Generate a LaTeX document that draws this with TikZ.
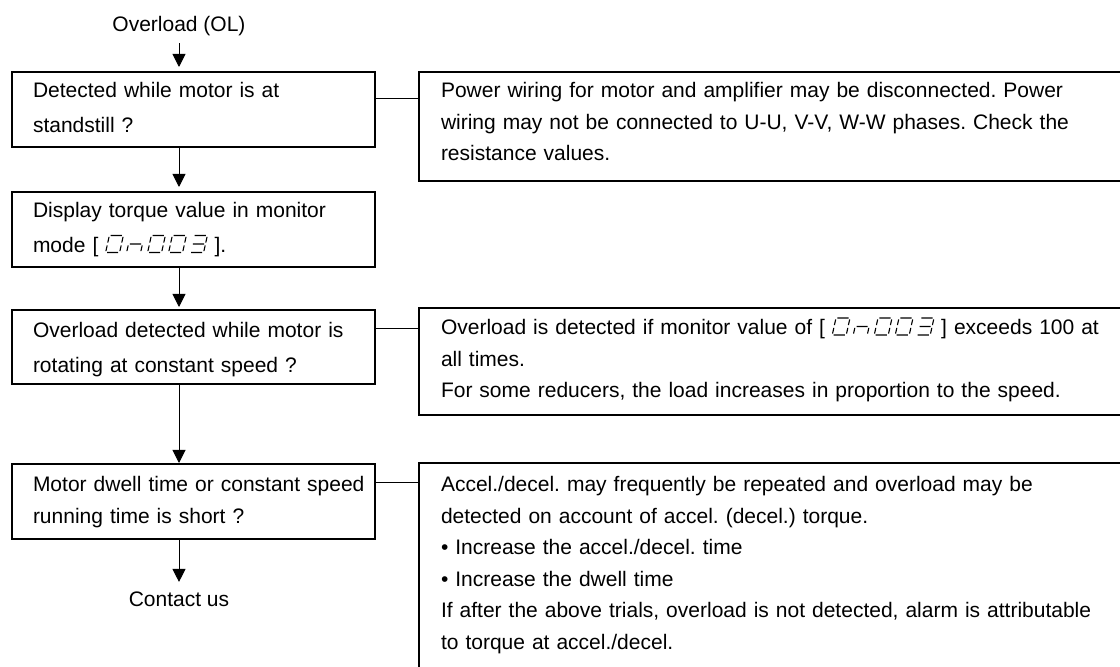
\documentclass[tikz,border=0pt]{standalone}
\usepackage{fontspec}
\setmainfont{Liberation Sans}
\usetikzlibrary{arrows.meta}
\frenchspacing

% seven-segment glyphs of the monitor read-out
\newcommand{\segzero}[1]{\draw[shift={(#1,0)}] (1.4,17)--(12.6,17) (14,15.6)--(14,9.9) (14,7.1)--(14,1.4) (1.4,0)--(12.6,0) (0,1.4)--(0,7.1) (0,9.9)--(0,15.6);}
\newcommand{\segn}[1]{\draw[shift={(#1,0)}] (1.4,8.5)--(12.6,8.5) (14,7.1)--(14,1.4) (0,1.4)--(0,7.1);}
\newcommand{\segthree}[1]{\draw[shift={(#1,0)}] (1.4,17)--(12.6,17) (14,15.6)--(14,9.9) (1.4,8.5)--(12.6,8.5) (14,7.1)--(14,1.4) (1.4,0)--(12.6,0);}
\newcommand{\monread}{\tikz[baseline=0pt, x=0.5pt, y=0.5pt, xslant=0.22, line width=0.55pt]{\segzero{0}\segn{21}\segzero{42}\segzero{63}\segthree{84}}}

\begin{document}
\begin{tikzpicture}[x=0.5pt, y=-0.5pt, >={Triangle[length=6.5pt,width=6.5pt]},
    font=\fontsize{10.5}{13}\selectfont,
    check/.style={draw, line width=1pt, anchor=north west, align=left,
      text width=160.5pt, inner xsep=10.5pt, inner ysep=0pt,
      font=\fontsize{10.5}{17.25}\selectfont, text height=13pt, text depth=24.5pt},
    remark/.style={draw, line width=1pt, anchor=north west, align=left,
      text width=340pt, inner xsep=11pt, inner ysep=0pt,
      font=\fontsize{10.5}{15.75}\selectfont},
    link/.style={line width=0.5pt}]
    \useasboundingbox (0,0) rectangle (1120,667);
    \clip (0,0) rectangle (1120,667);

    \node[anchor=base] (title) at (179,32) {Overload (OL)};
    \node[check] (q1) at (11,71) {Detected while motor is at\\standstill ?};
    \node[check] (q2) at (11,191) {Display torque value in monitor\\mode [ \monread{} ].};
    \node[check, text height=14pt, text depth=23pt] (q3) at (11,309) {Overload detected while motor is\\rotating at constant speed ?};
    \node[check, text height=14pt, text depth=23.5pt, font=\fontsize{10.5}{16}\selectfont] (q4) at (11,463) {\mbox{Motor dwell time or constant speed}\\running time is short ?};
    \node[anchor=base, inner sep=5pt] (contact) at (179,607) {Contact us};

    \node[remark, text height=13pt, text depth=41.5pt] (n1) at (418,71) {Power wiring for motor and amplifier may be disconnected. Power\\wiring may not be connected to U-U, V-V, W-W phases. Check the\\resistance values.};
    \node[remark, text height=13.5pt, text depth=40pt] (n2) at (418,307) {Overload is detected if monitor value of [ \monread{} ] exceeds 100 at\\all times.\\For some reducers, the load increases in proportion to the speed.};
    \node[remark, text height=14.5pt, text depth=120pt] (n3) at (418,462) {Accel./decel. may frequently be repeated and overload may be\\detected on account of accel. (decel.) torque.\\\textbullet{} Increase the accel./decel. time\\\textbullet{} Increase the dwell time\\If after the above trials, overload is not detected, alarm is attributable\\to torque at accel./decel.};

    \draw[->, link, shorten >=2pt] (title) -- (q1.north -| title);
    \draw[->, link, shorten >=2pt] (q1.south -| title) -- (q2.north -| title);
    \draw[->, link, shorten >=1pt] (q2.south -| title) -- (q3.north -| title);
    \draw[->, link] (q3.south -| title) -- (q4.north -| title);
    \draw[->, link] (q4.south -| title) -- (contact);

    \coordinate (t1) at ([yshift=-14pt]n1.north west);
    \coordinate (t2) at ([yshift=-11pt]n2.north west);
    \coordinate (t3) at ([yshift=-10.5pt]n3.north west);
    \draw[link] (t1 -| q1.east) -- (t1);
    \draw[link] (t2 -| q3.east) -- (t2);
    \draw[link] (t3 -| q4.east) -- (t3);
\end{tikzpicture}
\end{document}
